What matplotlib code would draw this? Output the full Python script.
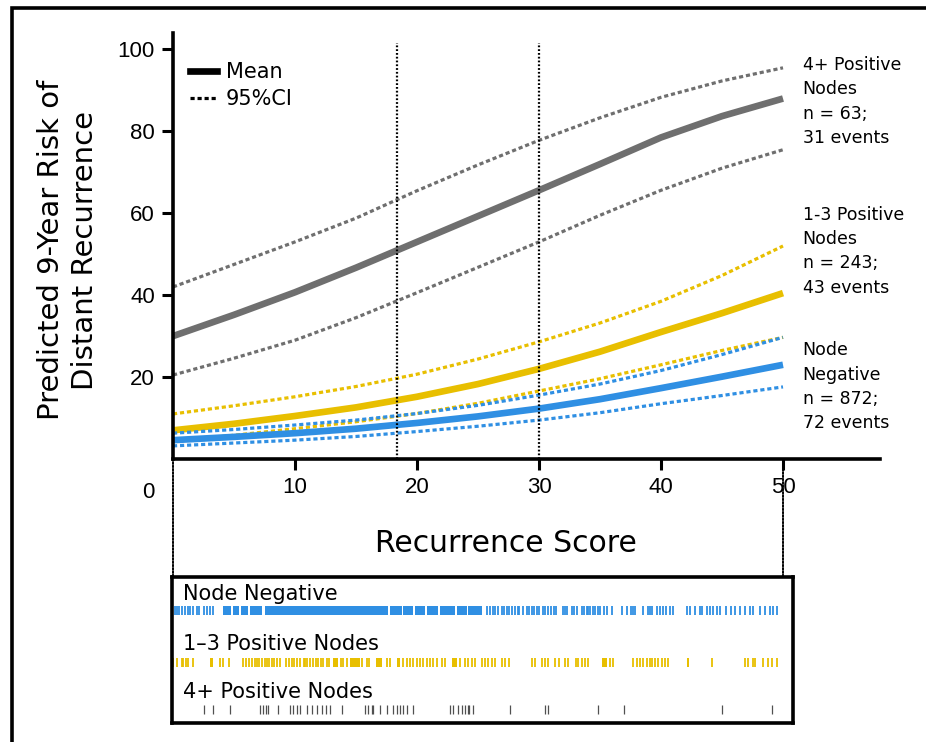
import numpy as np
import matplotlib
matplotlib.use("Agg")
import matplotlib.pyplot as plt
from matplotlib.patches import Rectangle, ConnectionPatch
from matplotlib.lines import Line2D

# ---------------- data ----------------
rs = [0, 5, 10, 15, 20, 25, 30, 35, 40, 45, 50]

# 4+ positive nodes
pos4_mean = [30, 35.2, 40.7, 46.7, 53, 59.3, 65.6, 72, 78.5, 83.7, 88]
pos4_hi   = [42, 47.5, 53, 58.8, 65.5, 71.8, 77.8, 83.3, 88.3, 92.3, 95.5]
pos4_lo   = [20.5, 24.6, 29, 34.5, 40.6, 46.8, 53, 59.5, 65.6, 71, 75.5]
# 1-3 positive nodes
pos13_mean = [7, 8.6, 10.5, 12.6, 15.2, 18.3, 22, 26.2, 31, 35.6, 40.5]
pos13_hi   = [11, 13, 15.2, 17.7, 20.7, 24.4, 28.6, 33.2, 38.5, 44.8, 52]
pos13_lo   = [4.4, 5.8, 7.4, 9.1, 11.1, 13.6, 16.6, 19.6, 23, 26.5, 29.7]
# node negative
neg_mean = [4.6, 5.4, 6.3, 7.4, 8.8, 10.4, 12.3, 14.6, 17.3, 20.1, 23]
neg_hi   = [6.3, 7.2, 8.3, 9.5, 11.1, 13.1, 15.6, 18.3, 21.6, 25.5, 29.7]
neg_lo   = [3.2, 3.9, 4.6, 5.5, 6.7, 8, 9.5, 11.3, 13.5, 15.5, 17.6]

cutoffs = [18.4, 30]

group_labels = ["4+ Positive\nNodes\nn = 63;\n31 events",
                "1-3 Positive\nNodes\nn = 243;\n43 events",
                "Node\nNegative\nn = 872;\n72 events"]
group_label_y = [87.3, 50.7, 17.6]

# rug (recurrence scores of patients), single ticks + dense stretches
rug_names = ["Node Negative", "1\u20133 Positive Nodes", "4+ Positive Nodes"]
neg_rug = [0.2, 0.3, 0.5, 0.7, 1.0, 1.2, 1.4, 1.6, 2.0, 2.1, 2.5, 2.8, 3.0, 3.3,
           25.7, 26.0, 26.2, 26.4, 26.6, 27.0, 27.1, 27.4, 27.5, 27.8, 28.0, 28.3,
           28.4, 28.7, 29.0, 29.2, 29.4, 29.6, 29.8, 30.0, 30.3, 30.5, 30.7, 31.0,
           31.2, 31.4, 32.0, 32.1, 32.3, 32.7, 32.9, 33.1, 33.5, 33.7, 33.9, 34.0,
           34.2, 34.4, 34.6, 34.8, 35.0, 35.3, 35.6, 36.0, 36.8, 37.2, 37.5, 37.7,
           37.9, 38.5, 38.9, 39.1, 39.3, 39.7, 39.9, 40.2, 40.4, 40.7, 41.0, 42.1,
           42.4, 42.8, 43.2, 43.4, 43.8, 44.0, 44.3, 44.6, 44.8, 45.3, 45.7, 46.1,
           46.5, 46.9, 47.3, 47.5, 48.1, 48.5, 48.9, 49.2, 49.5]
neg_blocks = [(4.1, 4.75), (4.9, 5.4), (5.6, 6.15), (6.3, 7.3), (7.5, 17.6),
              (17.8, 18.8), (18.85, 19.7), (19.85, 20.65), (20.8, 21.7),
              (21.9, 23.1), (23.3, 24.1), (24.2, 25.3)]
pos13_rug = [0.0, 0.3, 0.7, 0.8, 1.1, 1.2, 1.6, 3.85, 4.1, 4.6, 5.7, 6.0, 6.2,
             6.5, 6.7, 6.9, 7.05, 7.3, 7.5, 7.7, 7.9, 8.1, 8.3, 8.5, 8.8, 9.3,
             9.5, 9.75, 9.9, 10.2, 10.4, 10.7, 10.8, 11.0, 11.2, 11.5, 11.7, 11.9,
             12.1, 12.3, 12.6, 12.8, 13.8, 13.9, 14.3, 15.5, 15.9, 16.1, 17.5, 17.8,
             18.85, 19.2, 19.4, 19.7, 20.0, 20.25, 20.5, 20.8, 21.1, 21.3, 21.6,
             22.05, 22.3, 23.5, 23.9, 24.2, 24.5, 24.75, 25.3, 25.6, 25.8, 26.15,
             26.4, 27.0, 27.2, 27.5, 29.4, 29.7, 30.25, 30.5, 30.7, 31.3, 31.6,
             32.1, 32.4, 33.0, 33.2, 33.5, 33.8, 34.0, 35.8, 36.1, 37.7, 38.0, 38.3,
             38.5, 38.85, 39.1, 39.3, 39.5, 39.75, 40.1, 40.3, 40.6, 42.2, 44.2,
             46.9, 47.1, 47.5, 47.7, 48.4, 48.8, 49.1, 49.5]
pos13_blocks = [(3.0, 3.3), (13.1, 13.5), (14.5, 15.3), (16.6, 17.1),
                (18.4, 18.6), (22.9, 23.3), (35.2, 35.6), (42.1, 42.3)]
pos4_rug = [2.5, 3.3, 4.7, 7.1, 7.4, 7.6, 7.8, 8.6, 9.6, 9.8, 10.2, 10.4, 11.0,
            11.4, 11.8, 12.2, 12.5, 12.9, 13.85, 15.7, 16.0, 16.3, 16.4, 17.0,
            17.5, 18.0, 18.4, 18.6, 18.85, 19.2, 19.7, 22.7, 22.95, 23.4, 23.7,
            23.9, 24.2, 24.3, 24.6, 27.6, 30.5, 30.7, 34.8, 37.0, 45.0, 49.1]

grey, gold, blue = "#6f6f6f", "#e8bf00", "#2f8fe3"
dots = (0, (1.3, 0.9))
fine_dots = (0, (0.8, 0.9))

# ---------------- figure ----------------
fig = plt.figure(figsize=(9.26, 7.42), dpi=100)
ax = fig.add_axes([173/926, 1-459/742, 707/926, 426/742])
rug = fig.add_axes([172/926, 1-723/742, 621/926, 146/742])

for mean, hi, lo, c in [(pos4_mean, pos4_hi, pos4_lo, grey),
                        (pos13_mean, pos13_hi, pos13_lo, gold),
                        (neg_mean, neg_hi, neg_lo, blue)]:
    ax.plot(rs, hi, color=c, lw=2.3, ls=dots)
    ax.plot(rs, lo, color=c, lw=2.3, ls=dots)
    ax.plot(rs, mean, color=c, lw=4.8, solid_capstyle="butt")

ax.vlines(cutoffs, 0, 101.5, colors="black", lw=1.6, linestyles=fine_dots)

ax.set_xlim(0, 57.95)
ax.set_ylim(0, 104)
ax.set_xticks([10, 20, 30, 40, 50])
ax.set_yticks([20, 40, 60, 80, 100])
for s in ["top", "right"]:
    ax.spines[s].set_visible(False)
for s in ["left", "bottom"]:
    ax.spines[s].set_linewidth(2.6)
ax.tick_params(length=8, width=2.2, pad=5, labelsize=16)
for lab in ax.get_xticklabels() + ax.get_yticklabels():
    lab.set_family("Liberation Sans")
ax.text(-2.0, -8.3, "0", fontsize=16, family="Liberation Sans",
        ha="center", va="center", clip_on=False)

ax.set_xlabel("Recurrence Score", fontsize=21.5)
ax.xaxis.set_label_coords(0.471, -0.165)
ax.set_ylabel("Predicted 9-Year Risk of\nDistant Recurrence", fontsize=21,
              linespacing=1.3)
ax.yaxis.set_label_coords(-0.104, 0.49)

for txt, yy in zip(group_labels, group_label_y):
    ax.text(51.6, yy, txt, fontsize=12.5, ha="left", va="center",
            linespacing=1.45, clip_on=False)

handles = [Line2D([], [], color="black", lw=4.8),
           Line2D([], [], color="black", lw=2.3, ls=dots)]
ax.legend(handles, ["Mean", "95%CI"], loc="upper left", frameon=False,
          bbox_to_anchor=(0.004, 0.966), fontsize=15, handlelength=1.3,
          handletextpad=0.4, labelspacing=0.35, borderaxespad=0.3)

# ---------------- rug panel ----------------
rug.set_xlim((172-173)/12.2, (793-173)/12.2)
rug.set_ylim(0, 1)
rug.set_xticks([])
rug.set_yticks([])
for s in rug.spines.values():
    s.set_linewidth(2.6)

rows = [(neg_rug, neg_blocks, blue, 0.74, 1.3),
        (pos13_rug, pos13_blocks, gold, 0.384, 1.3),
        (pos4_rug, [], "#505050", 0.062, 0.9)]
label_y = [0.885, 0.542, 0.213]
for (ticks, blocks, c, y0, w), name, ly in zip(rows, rug_names, label_y):
    rug.vlines(ticks, y0, y0 + 0.062, colors=c, lw=w)
    if blocks:
        rug.broken_barh([(a, b - a) for a, b in blocks], (y0, 0.062),
                        facecolors=c)
    rug.text(0.82, ly, name, fontsize=15, ha="left", va="center")

# dotted guides from the main x-axis down to the rug panel
for xv in [0, 50]:
    con = ConnectionPatch(xyA=(xv, 0), coordsA=ax.transData,
                          xyB=(xv, 1), coordsB=rug.get_xaxis_transform(),
                          color="black", lw=1.4, ls=fine_dots, zorder=5)
    fig.add_artist(con)

# outer frame
fig.add_artist(Rectangle((12/926, -0.05), 1.0, 1 - 8/742 + 0.05,
                         transform=fig.transFigure, fill=False,
                         lw=2.6, ec="black", clip_on=False))

fig.savefig("out.png", dpi=100)
